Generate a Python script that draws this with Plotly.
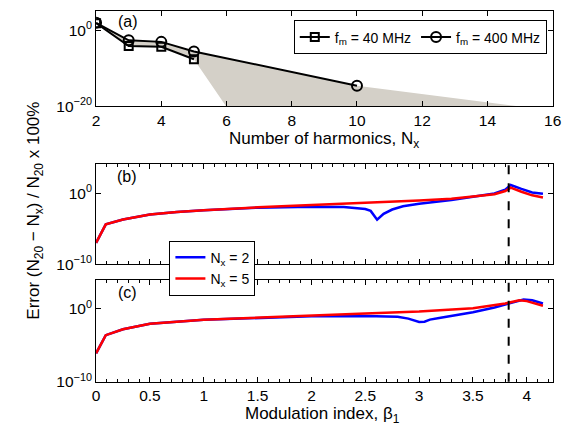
import plotly.graph_objects as go

# ---------------- data ----------------
# panel (a): error vs number of harmonics
harm_40 = [2, 3, 4, 5]
err_40 = [90, 8e-5, 5e-5, 2.5e-8]
harm_400 = [2, 3, 4, 5, 10]
err_400 = [110, 2.5e-3, 1e-3, 3e-6, 2.5e-15]
# continuation of each curve below the plotted range (edges of shaded area)
tail_40_x = [6]
tail_40_y = [6e-21]
tail_400_x = [15]
tail_400_y = [8e-21]

# panel (b)
b_beta_n2 = [0, 0.09, 0.25, 0.5, 0.75, 1.0, 1.5, 2.0, 2.3, 2.5, 2.55, 2.61, 2.67, 2.75,
             2.85, 3.0, 3.3, 3.5, 3.7, 3.8, 3.85, 3.95, 4.05, 4.15]
b_err_n2 = [1e-7, 4e-5, 2e-4, 1e-3, 2.2e-3, 4e-3, 9e-3, 1.25e-2, 1.1e-2, 6e-3, 3.2e-3, 1.8e-4,
            1.2e-3, 5e-3, 1.4e-2, 3.2e-2, 0.11, 0.28, 0.9, 3.2, 14, 4, 1.25, 0.8]
b_beta_n5 = [0, 0.09, 0.25, 0.5, 0.75, 1.0, 1.5, 2.0, 2.5, 3.0, 3.3, 3.5, 3.7, 3.8, 3.85,
             3.95, 4.05, 4.15]
b_err_n5 = [1e-7, 4e-5, 2e-4, 1e-3, 2.2e-3, 4e-3, 1e-2, 2e-2, 4e-2, 9e-2, 0.16, 0.3, 0.7,
            2, 6, 1.6, 0.5, 0.25]

# panel (c)
c_beta_n2 = [0, 0.09, 0.25, 0.5, 1.0, 1.5, 2.0, 2.5, 2.8, 2.9, 3.0, 3.05, 3.1, 3.2, 3.5,
             3.7, 3.8, 3.9, 3.97, 4.05, 4.15]
c_err_n2 = [8e-7, 2.5e-4, 1.6e-3, 9e-3, 3.2e-2, 6.3e-2, 0.1, 0.11, 0.085, 0.047, 0.016,
            0.018, 0.034, 0.063, 0.35, 1.6, 4, 12.6, 20, 16, 5.6]
c_beta_n5 = [0, 0.09, 0.25, 0.5, 1.0, 1.5, 2.0, 2.5, 3.0, 3.5, 3.8, 3.93, 4.0, 4.15]
c_err_n5 = [8e-7, 2.5e-4, 1.6e-3, 9e-3, 3.4e-2, 7e-2, 0.125, 0.24, 0.44, 1.3, 5.6, 16,
            12, 2.8]

bessel_zero = 3.8317  # dashed marker line

# tick labels
a_xticks = [2, 4, 6, 8, 10, 12, 14, 16]
a_yticks = [1e-20, 1e0]
a_yticklabels = ["10<sup>−20</sup>", "10<sup>0</sup>"]
bc_xticks = [0, 0.5, 1, 1.5, 2, 2.5, 3, 3.5, 4]
bc_xticklabels = ["0", "0.5", "1", "1.5", "2", "2.5", "3", "3.5", "4"]
bc_yticks = [1e-10, 1e0]
bc_yticklabels = ["10<sup>−10</sup>", "10<sup>0</sup>"]

# ---------------- figure ----------------
W, H = 582, 433
FONT = "Liberation Sans, Arial, sans-serif"

def px_x(p):
    return p / W

def px_y(p):
    return 1 - p / H

fig = go.Figure()

# shaded region between the two curves in (a)
fill_x = harm_40 + tail_40_x + tail_400_x + harm_400[::-1]
fill_y = err_40 + tail_40_y + tail_400_y + err_400[::-1]
fig.add_trace(go.Scatter(x=fill_x, y=fill_y, fill="toself", fillcolor="#d4d0c8",
                         mode="lines", line=dict(width=0), showlegend=False,
                         hoverinfo="skip", xaxis="x", yaxis="y"))

fig.add_trace(go.Scatter(x=harm_40, y=err_40, mode="lines+markers",
                         name="f<sub>m</sub> = 40 MHz",
                         line=dict(color="black", width=2),
                         marker=dict(symbol="square-open", size=8, color="black",
                                     line=dict(width=2)),
                         xaxis="x", yaxis="y", legend="legend"))
fig.add_trace(go.Scatter(x=harm_400, y=err_400, mode="lines+markers",
                         name="f<sub>m</sub> = 400 MHz",
                         line=dict(color="black", width=2),
                         marker=dict(symbol="circle-open", size=10, color="black",
                                     line=dict(width=2)),
                         xaxis="x", yaxis="y", legend="legend"))

# panel (b)
fig.add_trace(go.Scatter(x=b_beta_n2, y=b_err_n2, mode="lines", name="N<sub>x</sub> = 2",
                         line=dict(color="#0000ff", width=2.5),
                         xaxis="x2", yaxis="y2", legend="legend2"))
fig.add_trace(go.Scatter(x=b_beta_n5, y=b_err_n5, mode="lines", name="N<sub>x</sub> = 5",
                         line=dict(color="#ff0000", width=2.5),
                         xaxis="x2", yaxis="y2", legend="legend2"))
# panel (c)
fig.add_trace(go.Scatter(x=c_beta_n2, y=c_err_n2, mode="lines", showlegend=False,
                         line=dict(color="#0000ff", width=2.5),
                         xaxis="x3", yaxis="y3"))
fig.add_trace(go.Scatter(x=c_beta_n5, y=c_err_n5, mode="lines", showlegend=False,
                         line=dict(color="#ff0000", width=2.5),
                         xaxis="x3", yaxis="y3"))

for xr, yr in (("x2", "y2 domain"), ("x3", "y3 domain")):
    fig.add_shape(type="line", x0=bessel_zero, x1=bessel_zero, y0=0, y1=1,
                  xref=xr, yref=yr, line=dict(color="black", width=2, dash="dash"))

XDOM = [px_x(86), px_x(553)]
common = dict(showline=True, linecolor="black", linewidth=1, mirror="ticks",
              ticks="inside", ticklen=5, tickcolor="black", showgrid=False,
              zeroline=False, tickfont=dict(family=FONT, size=15.5, color="black"))

fig.update_layout(
    width=W, height=H,
    margin=dict(l=0, r=0, t=0, b=0),
    paper_bgcolor="white", plot_bgcolor="white",
    font=dict(family=FONT, size=16, color="black"),
    xaxis=dict(domain=XDOM, anchor="y", range=[2, 16], tickvals=a_xticks, **common),
    yaxis=dict(domain=[px_y(100), px_y(3.3)], anchor="x", type="log", range=[-20, 5.1],
               tickvals=a_yticks, ticktext=a_yticklabels, **common),
    xaxis2=dict(domain=XDOM, anchor="y2", range=[0, 4.24], tickvals=bc_xticks,
                showticklabels=False,
                minor=dict(dtick=0.1, ticks="inside", ticklen=3, tickcolor="black"),
                **common),
    yaxis2=dict(domain=[px_y(261), px_y(159)], anchor="x2", type="log", range=[-10, 4.1],
                tickvals=bc_yticks, ticktext=bc_yticklabels, **common),
    xaxis3=dict(domain=XDOM, anchor="y3", range=[0, 4.24], tickvals=bc_xticks,
                ticktext=bc_xticklabels,
                minor=dict(dtick=0.1, ticks="inside", ticklen=3, tickcolor="black"),
                **common),
    yaxis3=dict(domain=[px_y(380.7), px_y(277)], anchor="x3", type="log", range=[-10, 4.0],
                tickvals=bc_yticks, ticktext=bc_yticklabels, **common),
    legend=dict(orientation="h", x=px_x(547), xanchor="right", y=px_y(12.7), yanchor="top",
                bgcolor="white", bordercolor="black", borderwidth=1,
                font=dict(family=FONT, size=14, color="black"), itemwidth=30),
    legend2=dict(orientation="v", x=px_x(161), xanchor="left", y=px_y(237), yanchor="top",
                 bgcolor="white", bordercolor="black", borderwidth=1,
                 font=dict(family=FONT, size=14, color="black"), itemwidth=30),
    showlegend=True,
)

ann = [
    dict(text="(a)", x=px_x(119), y=px_y(14), size=16),
    dict(text="(b)", x=px_x(118), y=px_y(172), size=16),
    dict(text="(c)", x=px_x(118), y=px_y(290), size=16),
    dict(text="Number of harmonics, N<sub>x</sub>", x=px_x(319.5), y=px_y(134), size=17),
    dict(text="Modulation index, β<sub>1</sub>", x=px_x(318), y=px_y(415), size=17),
    dict(text="Error (N<sub>20</sub> − N<sub>x</sub>) / N<sub>20</sub> x 100%",
         x=px_x(24), y=px_y(206), textangle=-90, size=17),
]
for a in ann:
    size = a.pop("size")
    fig.add_annotation(xref="paper", yref="paper", showarrow=False,
                       font=dict(family=FONT, size=size, color="black"),
                       xanchor="center", yanchor="middle", **a)

fig.write_html("out.html")
